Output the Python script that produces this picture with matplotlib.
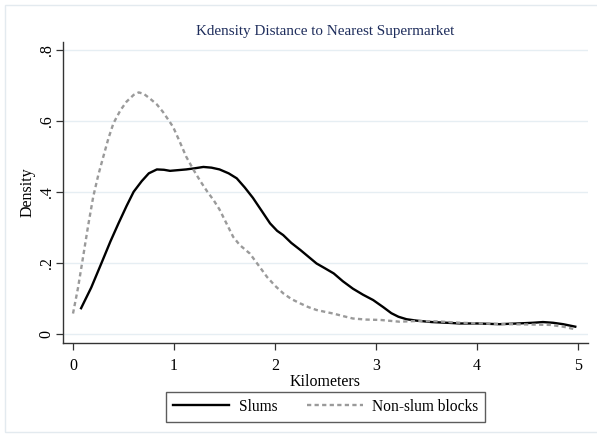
import matplotlib.pyplot as plt
from matplotlib.patches import Rectangle

# Kernel density estimates, distance to nearest supermarket (km)
slums_x = [0.08, 0.18, 0.28, 0.37, 0.45, 0.53, 0.60, 0.68, 0.75, 0.83, 0.90, 0.96,
           1.04, 1.12, 1.20, 1.29, 1.37, 1.45, 1.54, 1.62, 1.70, 1.78, 1.87, 1.95,
           2.02, 2.08, 2.16, 2.25, 2.33, 2.41, 2.49, 2.58, 2.67, 2.77, 2.87, 2.97,
           3.07, 3.15, 3.22, 3.30, 3.40, 3.55, 3.70, 3.83, 4.00, 4.22, 4.40, 4.55,
           4.65, 4.75, 4.85, 4.97]
slums_y = [0.072, 0.130, 0.198, 0.260, 0.311, 0.360, 0.400, 0.430, 0.452, 0.463, 0.462, 0.459,
           0.461, 0.463, 0.466, 0.470, 0.468, 0.463, 0.452, 0.438, 0.412, 0.383, 0.345, 0.311,
           0.290, 0.278, 0.256, 0.236, 0.217, 0.198, 0.185, 0.170, 0.148, 0.127, 0.110, 0.095,
           0.075, 0.058, 0.048, 0.041, 0.037, 0.033, 0.031, 0.029, 0.029, 0.027, 0.029, 0.031,
           0.033, 0.031, 0.027, 0.020]

nonslum_x = [0.00, 0.05, 0.10, 0.15, 0.20, 0.25, 0.30, 0.35, 0.40, 0.47, 0.53, 0.60,
             0.65, 0.70, 0.76, 0.83, 0.89, 0.95, 0.99, 1.05, 1.12, 1.19, 1.26, 1.33,
             1.39, 1.45, 1.52, 1.585, 1.65, 1.75, 1.83, 1.92, 2.00, 2.08, 2.16, 2.245,
             2.33, 2.41, 2.49, 2.575, 2.67, 2.77, 2.90, 3.04, 3.23, 3.40, 3.60, 3.83,
             4.05, 4.32, 4.55, 4.72, 4.85, 4.98]
nonslum_y = [0.057, 0.130, 0.217, 0.305, 0.386, 0.447, 0.499, 0.550, 0.593, 0.630, 0.654, 0.673,
             0.680, 0.676, 0.663, 0.646, 0.625, 0.600, 0.583, 0.545, 0.499, 0.463, 0.430, 0.400,
             0.377, 0.350, 0.310, 0.273, 0.250, 0.226, 0.195, 0.160, 0.135, 0.114, 0.098, 0.086,
             0.075, 0.067, 0.062, 0.057, 0.050, 0.043, 0.040, 0.039, 0.034, 0.036, 0.035, 0.031,
             0.029, 0.027, 0.026, 0.025, 0.020, 0.012]

x_ticks = [0, 1, 2, 3, 4, 5]
y_ticks = [0, 0.2, 0.4, 0.6, 0.8]
y_labels = ["0", ".2", ".4", ".6", ".8"]

plt.rcParams['font.family'] = ['Liberation Serif', 'DejaVu Serif']

fig = plt.figure(figsize=(5.97, 4.36), dpi=100)
ax = fig.add_axes([63 / 597, 1 - 343 / 436, 525 / 597, 301 / 436])

# light frame around the graph region
fig.patches.append(Rectangle((5 / 597, 4 / 436), 600 / 597, 427 / 436, transform=fig.transFigure,
                             fill=False, edgecolor='#e3eaef', linewidth=1.0))

for y in y_ticks:
    ax.axhline(y, color='#e6eef3', linewidth=1.0, zorder=0)

ax.plot(slums_x, slums_y, color='black', linewidth=1.7, label='Slums')
ax.plot(nonslum_x, nonslum_y, color='#9a9a9a', linewidth=1.7, dashes=(1.8, 1.4),
        label='Non-slum blocks')

ax.set_xlim(-0.099, 5.096)
ax.set_ylim(-0.026, 0.822)
ax.set_xticks(x_ticks)
ax.set_yticks(y_ticks)
ax.set_yticklabels(y_labels, rotation=90, va='center')
ax.tick_params(direction='out', length=5, width=0.9, color='#333333', labelsize=11.5)
ax.tick_params(axis='x', pad=6)
ax.tick_params(axis='y', pad=1)

for side in ['top', 'right']:
    ax.spines[side].set_visible(False)
for side in ['left', 'bottom']:
    ax.spines[side].set_color('#333333')
    ax.spines[side].set_linewidth(1.0)

ax.set_xlabel('Kilometers', fontsize=11.5, labelpad=0)
ax.set_ylabel('Density', fontsize=11.5, labelpad=2)
fig.text((63 + 588) / 2 / 597, 1 - 31 / 436, 'Kdensity Distance to Nearest Supermarket',
         ha='center', va='center', fontsize=10.9, color='#1e2d5c')

leg = ax.legend(loc='center', bbox_to_anchor=(325.7 / 597, 1 - 406.7 / 436),
                bbox_transform=fig.transFigure, ncol=2, frameon=True, fancybox=False,
                fontsize=11.2, handlelength=3.6, handletextpad=0.6, columnspacing=1.9,
                borderpad=0.45, borderaxespad=0)
leg.get_frame().set_edgecolor('#333333')
leg.get_frame().set_linewidth(1.0)

fig.savefig('out.png', dpi=100)
